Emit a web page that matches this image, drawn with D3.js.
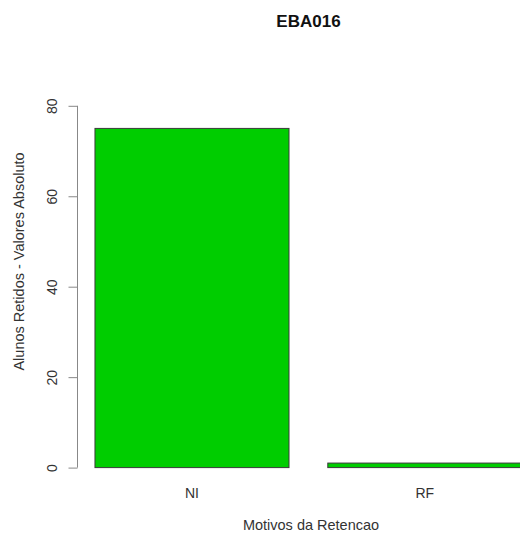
<!DOCTYPE html>
<html><head><meta charset="utf-8">
<script src="https://cdn.jsdelivr.net/npm/d3@7"></script>
<style>body{margin:0;background:#fff;} svg{display:block;}</style>
</head><body>
<script>
const title = "EBA016";
const categories = ["NI", "RF"];
const values = [75, 1];
const yTicks = [0, 20, 40, 60, 80];
const xLabel = "Motivos da Retencao";
const yLabel = "Alunos Retidos - Valores Absoluto";

const W = 520, H = 535;
const svg = d3.select("body").append("svg").attr("width", W).attr("height", H);
const font = "Liberation Sans, Arial, Helvetica, sans-serif";

// R barplot-like geometry: bars width 1, space 0.2
const xs = d3.scaleLinear().domain([0.112, 2.488]).range([77.9, 538.9]);
const ys = d3.scaleLinear().domain([0, 80]).range([467.6, 105.8]);
const lefts = categories.map((c, i) => 0.2 + i * 1.2);

svg.selectAll("rect.bar").data(values).enter().append("rect")
  .attr("class", "bar")
  .attr("x", (d, i) => xs(lefts[i]))
  .attr("width", (d, i) => xs(lefts[i] + 1) - xs(lefts[i]))
  .attr("y", d => ys(d))
  .attr("height", d => ys(0) - ys(d))
  .attr("fill", "#00CD00")
  .attr("stroke", "#3a3a3a")
  .attr("stroke-width", 1);

// y axis
const yAxis = d3.axisLeft(ys).tickValues(yTicks).tickSize(9).tickFormat(d3.format("d"));
const gy = svg.append("g").attr("transform", "translate(77.5,0)").call(yAxis);
gy.select(".domain").attr("stroke", "#888").attr("d", `M0,${ys(0)}V${ys(80)}`);
gy.selectAll(".tick line").attr("stroke", "#888");
gy.selectAll(".tick text")
  .attr("font-family", font).attr("font-size", 14).attr("fill", "#333")
  .attr("x", 0).attr("y", 0).attr("dy", null)
  .attr("text-anchor", "middle")
  .attr("transform", "translate(-20.5,0) rotate(-90)");

// x category labels
svg.selectAll("text.cat").data(categories).enter().append("text")
  .attr("class", "cat")
  .attr("x", (d, i) => xs(lefts[i] + 0.5))
  .attr("y", 498)
  .attr("text-anchor", "middle")
  .attr("font-family", font).attr("font-size", 14).attr("fill", "#333")
  .text(d => d);

// title
svg.append("text").attr("x", 308.5).attr("y", 27).attr("text-anchor", "middle")
  .attr("font-family", font).attr("font-size", 17).attr("font-weight", "bold").attr("fill", "#111")
  .text(title);

// axis titles
svg.append("text").attr("x", 311).attr("y", 530).attr("text-anchor", "middle")
  .attr("font-family", font).attr("font-size", 14.5).attr("fill", "#333").text(xLabel);
svg.append("text").attr("transform", "translate(23.5,261.5) rotate(-90)").attr("text-anchor", "middle")
  .attr("font-family", font).attr("font-size", 14.5).attr("fill", "#333").text(yLabel);
</script>
</body></html>
